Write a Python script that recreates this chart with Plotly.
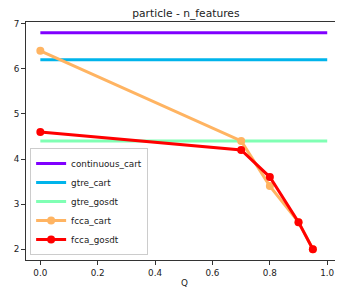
import plotly.graph_objects as go

title = "particle - n_features"
q_const = [0.0, 1.0]
continuous_cart = [6.8, 6.8]
gtre_cart = [6.2, 6.2]
gtre_gosdt = [4.4, 4.4]
q_fcca = [0.0, 0.7, 0.8, 0.9, 0.95]
fcca_cart = [6.4, 4.4, 3.4, 2.6, 2.0]
fcca_gosdt = [4.6, 4.2, 3.6, 2.6, 2.0]
x_ticks = [0.0, 0.2, 0.4, 0.6, 0.8, 1.0]
y_ticks = [2, 3, 4, 5, 6, 7]

fig = go.Figure()
fig.add_trace(go.Scatter(x=q_const, y=continuous_cart, mode="lines", name="continuous_cart",
                         line=dict(color="#8000ff", width=3)))
fig.add_trace(go.Scatter(x=q_const, y=gtre_cart, mode="lines", name="gtre_cart",
                         line=dict(color="#00b4eb", width=3)))
fig.add_trace(go.Scatter(x=q_const, y=gtre_gosdt, mode="lines", name="gtre_gosdt",
                         line=dict(color="#80ffb4", width=3)))
fig.add_trace(go.Scatter(x=q_fcca, y=fcca_cart, mode="lines+markers", name="fcca_cart",
                         line=dict(color="#ffb462", width=3), marker=dict(size=8, color="#ffb462")))
fig.add_trace(go.Scatter(x=q_fcca, y=fcca_gosdt, mode="lines+markers", name="fcca_gosdt",
                         line=dict(color="#ff0000", width=3), marker=dict(size=8, color="#ff0000")))

axis_common = dict(showgrid=False, zeroline=False, showline=True, linecolor="#333333", linewidth=1,
                   mirror=True, ticks="outside", ticklen=4, tickcolor="#333333", automargin=False,
                   ticklabeloverflow="allow", tickfont=dict(size=8.8, color="#222222"))
# page body has an 8px default margin, so the figure is sized to fill the remaining window
fig.update_layout(
    width=335, height=280,
    margin=dict(l=18, r=0, t=14, b=28),
    paper_bgcolor="white", plot_bgcolor="white",
    font=dict(family="DejaVu Sans", size=8.8, color="#222222"),
    title=dict(text=title, x=0.531, xref="container", xanchor="center", y=0.980, yref="container",
               yanchor="middle", pad=dict(t=0, b=0), font=dict(size=10.7, color="#222222"),
               automargin=False),
    xaxis=dict(range=[-0.05, 1.055], tickvals=x_ticks, ticktext=[f"{v:.1f}" for v in x_ticks],
               title=dict(text="Q", standoff=5, font=dict(size=8.8)), **axis_common),
    yaxis=dict(range=[1.76, 7.04], tickvals=y_ticks, **axis_common),
    legend=dict(x=0.013, y=0.021, xanchor="left", yanchor="bottom",
                bgcolor="rgba(255,255,255,0.8)", bordercolor="#cccccc", borderwidth=1,
                font=dict(size=8.8), tracegroupgap=0, itemwidth=30),
    showlegend=True,
)
fig.write_html("out.html",
               post_script="document.documentElement.style.overflow='hidden';"
                           "document.body.style.overflow='hidden';")
